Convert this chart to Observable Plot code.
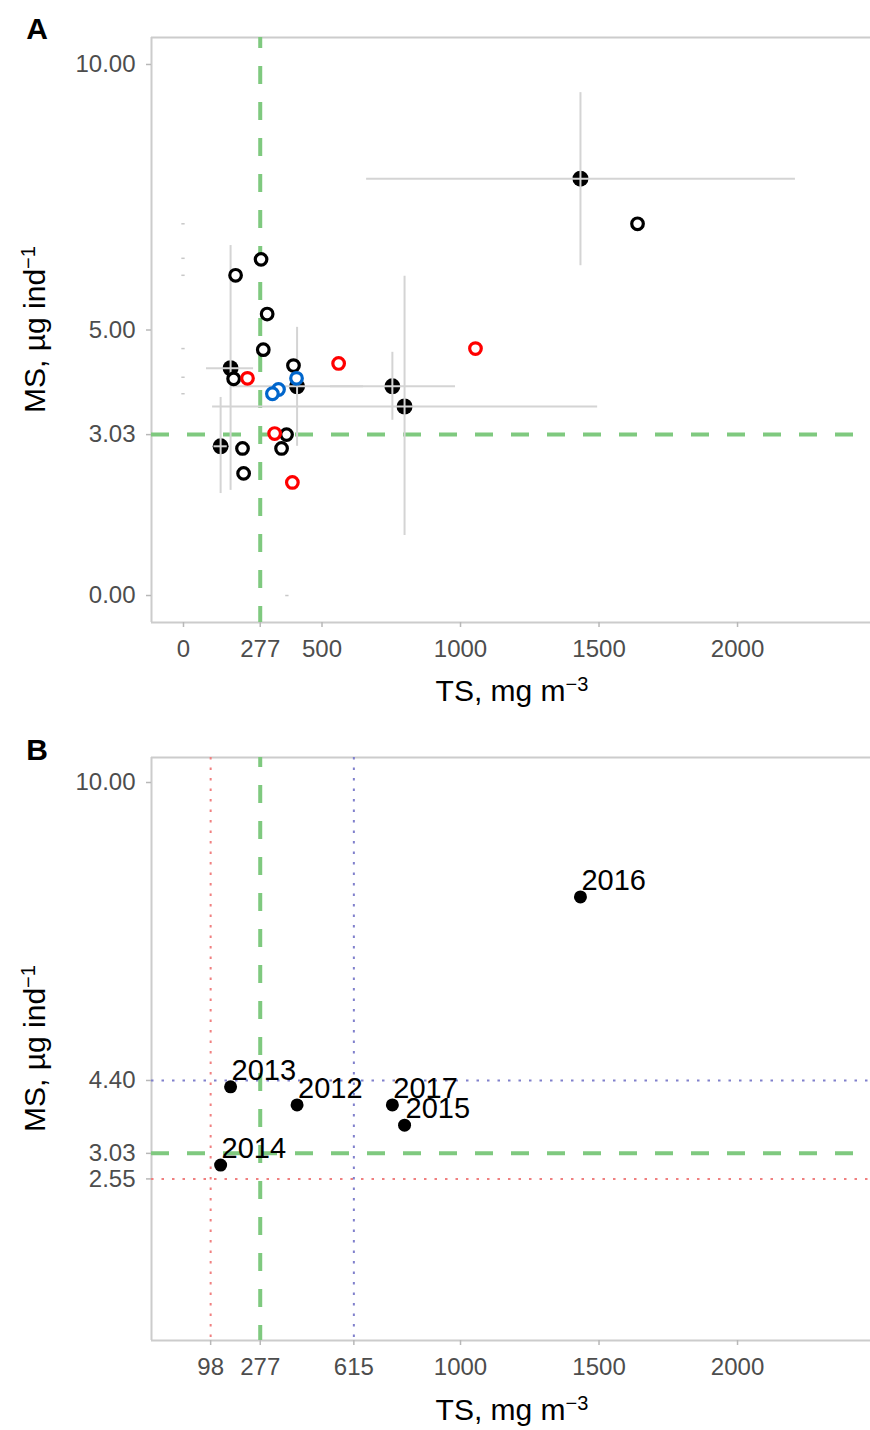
<!DOCTYPE html>
<html><head><meta charset="utf-8">
<script src="https://cdn.jsdelivr.net/npm/d3@7"></script>
<script src="https://cdn.jsdelivr.net/npm/@observablehq/plot@0.6"></script>
<style>
body{margin:0;background:#fff;}
#chart svg{display:block;}
</style></head><body><div id="chart"></div>
<script>
// ---- data ----
const years = ["2012", "2013", "2014", "2015", "2016", "2017"];
const meanTS = [410, 170, 134, 798, 1433, 754];
const meanMS = [3.94, 4.28, 2.81, 3.56, 7.85, 3.94];
const tsLow  = [170, 83, 110, 105, 661, 531];
const tsHigh = [650, 253, 158, 1495, 2209, 982];
const msLow  = [2.81, 1.98, 1.92, 1.13, 6.21, 3.30];
const msHigh = [5.05, 6.59, 3.73, 6.01, 9.47, 4.58];

const openTS = [280, 188, 302, 288, 181, 397, 372, 213, 354, 217, 1639, 231, 560, 1054, 329, 393, 408, 343, 321];
const openMS = [6.33, 6.03, 5.30, 4.63, 4.08, 4.33, 3.03, 2.77, 2.77, 2.30, 7.00, 4.09, 4.37, 4.65, 3.05, 2.13, 4.09, 3.88, 3.80];
const openGroup = ["black","black","black","black","black","black","black","black","black","black","black",
                   "red","red","red","red","red","blue","blue","blue"];

const stubTS = [0, 0, 0, 0, 0, 0, 375];
const stubMS = [7.00, 6.35, 6.03, 4.65, 4.11, 3.80, 0];

const thresholdTS = [277];
const thresholdMS = [3.03];
const lowTS = [98], lowMS = [2.55];
const highTS = [615], highMS = [4.40];

const xTicksA = [0, 277, 500, 1000, 1500, 2000];
const yTicksA = [0, 3.03, 5, 10];
const xTicksB = [98, 277, 615, 1000, 1500, 2000];
const yTicksB = [2.55, 3.03, 4.40, 10];

// ---- style ----
const font = "'Liberation Sans', Arial, sans-serif";
const green = "#7fc97f";
const frameColor = "#cccccc";
const barColor = "#d4d4d4";
const groupColors = {black: "#000000", red: "#ff0000", blue: "#0066cc"};
const xDomain = [-115.5, 2480];

function axes(xt, yt) {
  return [
    Plot.axisX({ticks: xt, tickSize: 5, tickPadding: 12, fontSize: 24, label: null,
      stroke: "#b8b8b8", strokeWidth: 1.5, fill: "#4d4d4d", tickFormat: d => String(d)}),
    Plot.axisY({ticks: yt, tickSize: 5, tickPadding: 11, fontSize: 24, label: null,
      stroke: "#b8b8b8", strokeWidth: 1.5, fill: "#4d4d4d", tickFormat: d3.format(".2f")})
  ];
}

function frameMarks(yDomain) {
  return [
    Plot.ruleY(yDomain, {stroke: frameColor, strokeWidth: 2}),
    Plot.ruleX([xDomain[0]], {stroke: frameColor, strokeWidth: 2})
  ];
}

function addTitles(svg, letter, letterY, xTitleY, yCenter) {
  const g = d3.select(svg).append("g").attr("font-family", font).attr("fill", "black");
  g.append("text").attr("x", 37).attr("y", letterY).attr("text-anchor", "middle")
    .attr("font-weight", "bold").attr("font-size", 30).text(letter);
  const xt = g.append("text").attr("x", 512).attr("y", xTitleY).attr("text-anchor", "middle").attr("font-size", 30);
  xt.append("tspan").text("TS, mg m");
  xt.append("tspan").attr("dy", "-0.5em").attr("font-size", "20px").text("\u22123");
  const yt = g.append("text").attr("transform", `translate(45,${yCenter}) rotate(-90)`)
    .attr("text-anchor", "middle").attr("font-size", 30);
  yt.append("tspan").text("MS, \u00B5g ind");
  yt.append("tspan").attr("dy", "-0.5em").attr("font-size", "20px").text("\u22121");
}

// ---- Panel A ----
const yDomA = [-0.508, 10.508];
const openIdx = openTS.map((_, i) => i);
const plotA = Plot.plot({
  width: 870, height: 715,
  marginLeft: 151, marginRight: 0, marginTop: 37, marginBottom: 93,
  style: {fontFamily: font, background: "white"},
  x: {domain: xDomain, label: null},
  y: {domain: yDomA, label: null},
  marks: [
    ...frameMarks(yDomA),
    ...axes(xTicksA, yTicksA),
    Plot.ruleX(thresholdTS, {stroke: green, strokeWidth: 4, strokeDasharray: "18,18", strokeDashoffset: 7}),
    Plot.ruleY(thresholdMS, {stroke: green, strokeWidth: 4, strokeDasharray: "18,18"}),
    Plot.ruleY(stubTS.map((_, i) => i), {y: stubMS, x1: i => stubTS[i] - 6, x2: i => stubTS[i] + 6, stroke: "#c8c8c8", strokeWidth: 1.5}),
    Plot.dot(years, {x: meanTS, y: meanMS, r: 8, fill: "black", stroke: "none"}),
    Plot.ruleY(years, {y: meanMS, x1: tsLow, x2: tsHigh, stroke: barColor, strokeWidth: 2}),
    Plot.ruleX(years, {x: meanTS, y1: msLow, y2: msHigh, stroke: barColor, strokeWidth: 2}),
    Plot.dot(openIdx, {x: i => openTS[i], y: i => openMS[i], r: 5.8, fill: "white", strokeWidth: 3.2,
      stroke: i => groupColors[openGroup[i]]})
  ]
});
addTitles(plotA, "A", 39, 701, 329.5);

// ---- Panel B ----
const yDomB = [-0.487, 10.47];
const plotB = Plot.plot({
  width: 870, height: 715,
  marginLeft: 151, marginRight: 0, marginTop: 42, marginBottom: 90,
  style: {fontFamily: font, background: "white"},
  x: {domain: xDomain, label: null},
  y: {domain: yDomB, label: null},
  marks: [
    ...frameMarks(yDomB),
    ...axes(xTicksB, yTicksB),
    Plot.ruleX(lowTS, {stroke: "#f08080", strokeWidth: 2, strokeDasharray: "2.5,8"}),
    Plot.ruleY(lowMS, {stroke: "#f08080", strokeWidth: 2, strokeDasharray: "2.5,8"}),
    Plot.ruleX(highTS, {stroke: "#8080cc", strokeWidth: 2, strokeDasharray: "2.5,8"}),
    Plot.ruleY(highMS, {stroke: "#8080cc", strokeWidth: 2, strokeDasharray: "2.5,8"}),
    Plot.ruleX(thresholdTS, {stroke: green, strokeWidth: 4, strokeDasharray: "18,18", strokeDashoffset: 8}),
    Plot.ruleY(thresholdMS, {stroke: green, strokeWidth: 4, strokeDasharray: "18,18"}),
    Plot.dot(years, {x: meanTS, y: meanMS, r: 6.5, fill: "black", stroke: "none"}),
    Plot.text(years, {x: meanTS, y: meanMS, text: d => d, textAnchor: "start", dx: 1, dy: -16,
      fontSize: 29, fill: "black"})
  ]
});
addTitles(plotB, "B", 45, 705, 333.5);

document.getElementById("chart").append(plotA, plotB);
</script>
</body></html>
